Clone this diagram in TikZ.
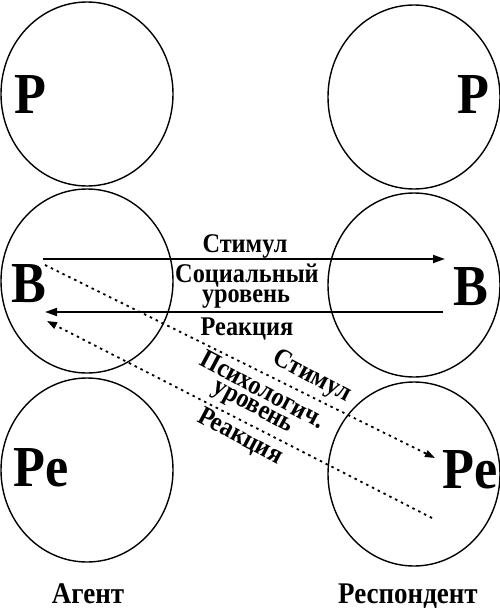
\documentclass[tikz,border=0pt]{standalone}
\usepackage{fontspec}
\setmainfont{Liberation Serif}[FakeStretch=0.9]
\usetikzlibrary{arrows.meta}

\tikzset{
  ring/.style={line width=1.4pt},
  letter/.style={font=\fontsize{58}{58}\selectfont\bfseries, inner sep=0pt},
  lbl/.style={font=\fontsize{27}{27}\selectfont\bfseries, inner sep=0pt},
  side/.style={font=\fontsize{30}{30}\selectfont\bfseries, inner sep=0pt, anchor=base},
  soc/.style={line width=1.8pt, -{Triangle[length=12pt,width=8pt]}},
  psy/.style={line width=1.8pt, dash pattern=on 2.5pt off 4pt, -{Triangle[length=10pt,width=7pt]}},
}

\begin{document}
\begin{tikzpicture}[x=1pt,y=-1pt]
    \useasboundingbox (0,0) rectangle (500,608);

    % Agent
    \draw[ring] (87,94) ellipse [x radius=86pt, y radius=92pt];
    \draw[ring] (87,281) ellipse [x radius=86pt, y radius=92pt];
    \draw[ring] (87,470) ellipse [x radius=86pt, y radius=92pt];
    \node[letter] (aP) at (30,95) {P};
    \node[letter] (aB) at (29,284) {B};
    \node[letter] (aPe) at (41,468) {Pe};
    \node[side] (agent) at (88,603) {Агент};

    % Respondent
    \draw[ring] (414,97) ellipse [x radius=86pt, y radius=92pt];
    \draw[ring] (414,285) ellipse [x radius=86pt, y radius=92pt];
    \draw[ring] (414,474) ellipse [x radius=86pt, y radius=92pt];
    \node[letter] (rP) at (473,95) {P};
    \node[letter] (rB) at (471,287) {B};
    \node[letter] (rPe) at (470,470) {Pe};
    \node[side] (resp) at (408,603) {Респондент};

    % Social level
    \coordinate (socA) at (43,259);
    \coordinate (socB) at (445,259);
    \coordinate (socC) at (443,312);
    \coordinate (socD) at (45,312);
    \draw[soc] (socA) -- (socB);
    \draw[soc] (socC) -- (socD);
    \node[lbl, anchor=base] (socStim) at (245,252) {Стимул};
    \node[lbl, anchor=base] (socName) at (247,282) {Социальный};
    \node[lbl, anchor=base] (socLvl) at (246,302) {уровень};
    \node[lbl, anchor=base] (socReact) at (247,335) {Реакция};

    % Psychological level
    \coordinate (psyA) at (45,265);
    \coordinate (psyB) at (435,458);
    \coordinate (psyC) at (432,518);
    \coordinate (psyD) at (47,321);
    \draw[psy] (psyA) -- (psyB);
    \draw[psy] (psyC) -- (psyD);
    \node[lbl, rotate=-28] (psyStim) at (312,377) {Стимул};
    \node[lbl, rotate=-28] (psyName) at (263,389) {Психологич.};
    \node[lbl, rotate=-28] (psyLvl) at (252,409) {уровень};
    \node[lbl, rotate=-28] (psyReact) at (240,437) {Реакция};
\end{tikzpicture}
\end{document}
